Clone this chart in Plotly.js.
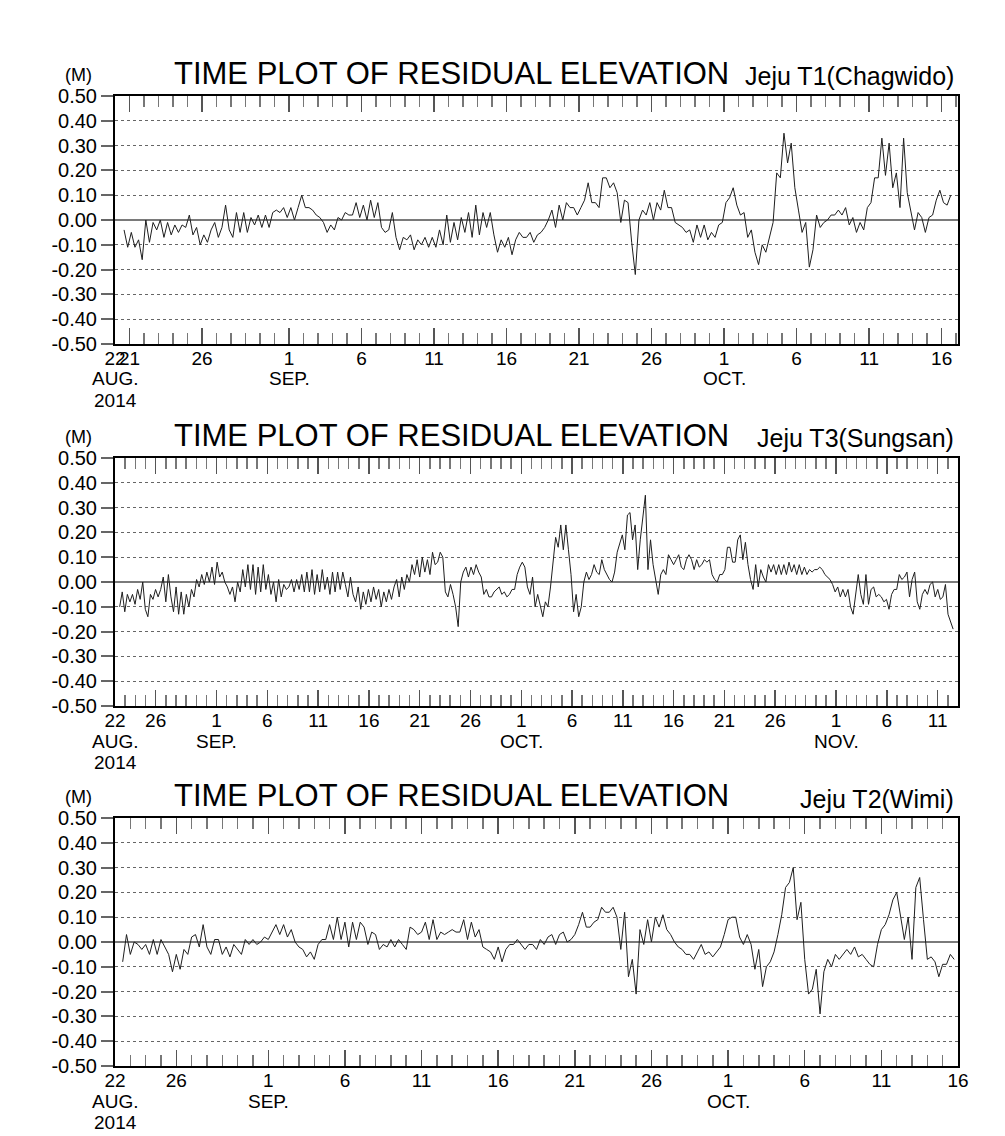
<!DOCTYPE html>
<html>
<head>
<meta charset="utf-8">
<script src="https://cdn.plot.ly/plotly-3.0.1.min.js"></script>
<style>
  body { margin: 0; background: #fff; }
  #chart { width: 1005px; height: 1136px; }
</style>
</head>
<body>
<div id="chart"></div>
<script>
// residual elevation (m), one reading every few hours

const plotTitle = 'TIME PLOT OF RESIDUAL ELEVATION';
const stationNames = ['Jeju T1(Chagwido)', 'Jeju T3(Sungsan)', 'Jeju T2(Wimi)'];

// T1 Chagwido
const t1Start = '2014-08-20T15:00:00';
const t1StepHours = 6;
const t1Values = [
  -0.04,-0.11,-0.05,-0.11,-0.08,-0.16,0.00,-0.09,-0.01,-0.04,
  0.00,-0.07,-0.01,-0.06,-0.02,-0.05,-0.02,-0.03,0.02,-0.06,
  -0.03,-0.10,-0.06,-0.09,-0.04,-0.01,-0.07,-0.03,0.06,-0.04,
  -0.07,0.03,-0.05,0.03,-0.05,0.01,-0.02,0.02,-0.03,0.02,
  -0.03,0.03,0.04,0.03,0.05,0.01,0.05,0.00,0.05,0.10,
  0.05,0.05,0.04,0.02,0.01,-0.01,-0.05,-0.02,-0.04,0.01,
  0.00,0.03,0.02,0.02,0.07,0.01,0.06,0.00,0.08,0.01,
  0.07,-0.03,-0.05,-0.04,0.03,-0.07,-0.12,-0.07,-0.08,-0.06,
  -0.12,-0.08,-0.10,-0.07,-0.11,-0.07,-0.11,-0.04,-0.10,0.02,
  -0.09,-0.01,-0.08,0.01,-0.05,0.03,-0.07,0.06,-0.06,0.03,
  -0.03,0.03,-0.06,-0.13,-0.08,-0.11,-0.07,-0.14,-0.08,-0.05,
  -0.07,-0.07,-0.05,-0.09,-0.06,-0.05,-0.03,0.00,
  0.04,-0.03,0.06,0.00,0.07,0.05,0.05,0.02,0.05,0.08,
  0.15,0.07,0.07,0.05,0.17,0.17,0.13,0.15,0.11,-0.01,
  0.08,0.07,-0.09,-0.22,0.00,0.04,0.02,0.07,0.00,0.07,
  0.04,0.12,0.05,0.05,-0.01,-0.02,-0.03,-0.05,-0.04,-0.09,
  -0.02,-0.07,-0.02,-0.08,-0.05,-0.07,-0.02,-0.01,0.07,0.09,
  0.13,0.06,0.02,0.03,-0.07,-0.04,-0.13,-0.18,-0.10,-0.13,
  -0.07,-0.01,0.19,0.17,0.35,0.23,0.31,0.13,0.04,-0.05,
  -0.01,-0.19,-0.12,0.02,-0.03,-0.01,0.00,0.02,0.02,0.04,
  0.02,0.05,-0.02,0.01,-0.05,-0.01,-0.04,0.05,0.07,0.17,
  0.17,0.33,0.18,0.31,0.13,0.19,0.05,0.33,0.11,0.03,
  -0.04,0.03,0.01,-0.05,0.01,0.02,0.08,0.12,0.07,0.06,
  0.10
];
const t1Range = ['2014-08-20', '2014-10-17 03:00'];
const t1TickDates = ['2014-08-20','2014-08-21','2014-08-26','2014-09-01','2014-09-06','2014-09-11',
  '2014-09-16','2014-09-21','2014-09-26','2014-10-01','2014-10-06','2014-10-11','2014-10-16'];
const t1TickText = ['22','21','26','1','6','11','16','21','26','1','6','11','16'];
const t1MonthDates = ['2014-08-20','2014-09-01','2014-10-01'];
const t1MonthText = ['AUG.','SEP.','OCT.'];

// T3 Sungsan
const t3Start = '2014-08-22T11:00:00';
const t3StepHours = 6.06;
const t3Values = [
  -0.10,-0.04,-0.12,-0.05, -0.08,-0.05,-0.09,-0.03, -0.07,0.00,-0.11,-0.14,
  -0.05,-0.07,-0.03,-0.06, -0.03,0.02,-0.08,0.03, -0.06,-0.12,-0.02,-0.13,
  -0.04,-0.13,-0.05,-0.10, -0.03,-0.06,0.01,-0.02, 0.03,-0.01,0.04,0.00,
  0.06,-0.01,0.08,0.02, 0.04,0.00,-0.02,-0.05, -0.02,-0.08,0.00,-0.04,
  0.05,-0.02,0.07,-0.03, 0.07,-0.05,0.06,-0.04, 0.07,-0.03,0.03,-0.05,
  0.00,-0.08,0.01,-0.06, -0.01,-0.03,-0.02,0.01, -0.04,0.01,-0.03,0.03,
  -0.04,0.04,-0.04,0.05, -0.05,0.03,-0.04,0.05, -0.03,0.02,-0.05,0.04,
  -0.04,0.04,-0.03,0.04, -0.01,-0.06,0.02,-0.05, -0.08,-0.02,-0.11,-0.04,
  -0.09,-0.03,-0.08,-0.02, -0.07,-0.03,-0.10,-0.04, -0.08,-0.03,-0.07,-0.02,
  0.01,-0.06,0.02,-0.03, 0.03,0.00,0.07,0.03, 0.09,0.02,0.10,0.04,
  0.09,0.03,0.12,0.07, 0.08,0.12,0.10,-0.04, -0.06,-0.01,-0.05,-0.10,
  -0.18,0.00,0.04,0.06, 0.02,0.06,0.03,0.07, 0.04,0.02,-0.05,-0.03,
  -0.06,-0.06,-0.04,-0.03,
  -0.02,-0.05,-0.04,-0.06,-0.05,-0.03,-0.03,0.03,0.06,0.08,
  0.06,-0.02,-0.05,0.02,-0.10,-0.05,-0.10,-0.14,-0.08,-0.10,
  -0.02,0.09,0.18,0.14,0.23,0.13,0.23,0.13,0.03,-0.12,
  -0.05,-0.14,-0.10,0.00,0.04,0.01,0.03,0.07,0.04,0.03,
  0.09,0.05,0.03,0.01,0.00,0.04,0.12,0.16,0.19,0.13,
  0.27,0.28,0.17,0.23,0.05,0.17,0.27,0.35,0.05,0.17,
  0.07,0.01,-0.05,0.03,0.05,0.03,0.11,0.09,0.07,0.09,
  0.11,0.06,0.05,0.09,0.11,0.09,0.05,0.09,0.06,0.07,
  0.09,0.08,0.09,0.03,0.01,0.00,0.03,0.03,0.05,0.14,
  0.14,0.08,0.08,0.17,0.19,0.09,0.16,0.07,0.01,-0.03,
  0.07,-0.02,0.05,0.02,0.00,0.07,0.04,0.07,0.03,0.07,
  0.03,0.07,0.03,0.08,0.04,0.07,0.03,0.07,0.03,0.06,
  0.03,0.05,0.04,0.05,0.05,0.06,0.05,0.03,0.02,0.01,
  -0.01,-0.04,-0.02,-0.06,-0.03,-0.06,-0.03,-0.10,-0.13,-0.05,
  0.03,-0.05,-0.09,0.03,-0.09,-0.03,-0.02,-0.06,-0.05,-0.06,
  -0.08,-0.07,-0.11,-0.05,-0.03,-0.03,0.03,0.01,0.02,0.04,
  -0.06,0.01,0.04,-0.08,-0.11,-0.05,-0.03,-0.05,-0.01,0.00,
  -0.06,-0.03,-0.07,-0.06,-0.01,-0.13,-0.16,-0.19
];
const t3Range = ['2014-08-22', '2014-11-13'];
const t3TickDates = ['2014-08-22','2014-08-26','2014-09-01','2014-09-06','2014-09-11','2014-09-16',
  '2014-09-21','2014-09-26','2014-10-01','2014-10-06','2014-10-11','2014-10-16','2014-10-21',
  '2014-10-26','2014-11-01','2014-11-06','2014-11-11'];
const t3TickText = ['22','26','1','6','11','16','21','26','1','6','11','16','21','26','1','6','11'];
const t3MonthDates = ['2014-08-22','2014-09-01','2014-10-01','2014-11-01'];
const t3MonthText = ['AUG.','SEP.','OCT.','NOV.'];

// T2 Wimi
const t2Start = '2014-08-22T12:00:00';
const t2StepHours = 6;
const t2Values = [
  -0.08,0.03,-0.05,0.00,-0.01,-0.03,-0.01,-0.05,0.01,-0.05,
  0.01,-0.02,-0.05,-0.12,-0.05,-0.11,-0.03,-0.05,0.02,0.03,
  -0.02,0.07,-0.02,-0.05,0.01,0.01,-0.05,-0.02,-0.06,-0.01,
  -0.03,-0.05,0.01,-0.01,0.01,-0.01,0.00,0.02,0.01,0.04,
  0.07,0.03,0.07,0.02,0.05,0.00,-0.02,-0.03,-0.06,-0.04,
  -0.07,-0.01,0.01,0.01,0.07,0.01,0.10,0.01,0.08,-0.02,
  0.08,0.01,0.08,0.06,-0.01,0.04,0.03,-0.03,-0.01,-0.02,
  0.01,-0.02,0.01,-0.01,-0.03,0.06,0.05,0.03,0.04,0.08,
  0.01,0.09,0.01,0.04,0.03,0.04,0.05,0.04,0.04,0.09,
  0.01,0.08,0.02,0.05,-0.02,-0.03,-0.04,-0.07,-0.02,-0.08,
  -0.03,-0.01,-0.01,0.01,-0.01,-0.03,-0.01,-0.01,-0.03,0.01,
  -0.01,0.02,0.03,-0.01,0.03,0.04,0.00,0.01,0.03,0.07,
  0.12,0.06,0.06,0.08,0.09,0.14,0.12,0.12,0.14,0.10,
  -0.03,0.12,-0.14,-0.07,-0.21,0.05,-0.01,0.09,0.00,0.10,
  0.06,0.11,0.05,0.03,0.00,-0.02,-0.03,-0.05,-0.05,-0.07,
  -0.04,-0.01,-0.05,-0.04,-0.06,-0.04,-0.02,0.03,0.09,0.10,
  0.10,0.02,-0.01,0.03,-0.01,-0.11,-0.03,-0.18,-0.10,-0.08,
  -0.04,0.03,0.11,0.22,0.24,0.30,0.09,0.16,-0.07,-0.21,
  -0.19,-0.11,-0.29,-0.12,-0.07,-0.10,-0.05,-0.07,-0.05,-0.03,
  -0.05,-0.02,-0.06,-0.05,-0.07,-0.09,-0.10,-0.01,0.05,0.07,
  0.11,0.17,0.20,0.10,0.01,0.10,-0.07,0.22,0.26,0.09,
  -0.07,-0.06,-0.08,-0.14,-0.09,-0.09,-0.05,-0.07
];
const t2Range = ['2014-08-22', '2014-10-16'];
const t2TickDates = ['2014-08-22','2014-08-26','2014-09-01','2014-09-06','2014-09-11','2014-09-16',
  '2014-09-21','2014-09-26','2014-10-01','2014-10-06','2014-10-11','2014-10-16'];
const t2TickText = ['22','26','1','6','11','16','21','26','1','6','11','16'];
const t2MonthDates = ['2014-08-22','2014-09-01','2014-10-01'];
const t2MonthText = ['AUG.','SEP.','OCT.'];

const yTickVals = [0.5, 0.4, 0.3, 0.2, 0.1, 0, -0.1, -0.2, -0.3, -0.4, -0.5];
const yTickText = ['0.50','0.40','0.30','0.20','0.10','0.00','-0.10','-0.20','-0.30','-0.40','-0.50'];

// page geometry in pixels
const W = 1005, H = 1136;
const plotLeft = 115, plotRight = 958;
const panelBoxes = [[96, 344], [458, 706], [818, 1066]];   // top, bottom

function py(px) { return 1 - px / H; }
function pxX(px) { return px / W; }

function sampleTimes(start, stepHours, n) {
  const t0 = Date.parse(start + 'Z');
  const out = [];
  for (let i = 0; i < n; i++) {
    const d = new Date(t0 + i * stepHours * 3600000);
    out.push(d.toISOString().slice(0, 19).replace('T', ' '));
  }
  return out;
}

const panels = [
  { values: t1Values, start: t1Start, step: t1StepHours, range: t1Range,
    tickDates: t1TickDates, tickText: t1TickText, monthDates: t1MonthDates, monthText: t1MonthText,
    minor0: '2014-08-20' },
  { values: t3Values, start: t3Start, step: t3StepHours, range: t3Range,
    tickDates: t3TickDates, tickText: t3TickText, monthDates: t3MonthDates, monthText: t3MonthText,
    minor0: '2014-08-22' },
  { values: t2Values, start: t2Start, step: t2StepHours, range: t2Range,
    tickDates: t2TickDates, tickText: t2TickText, monthDates: t2MonthDates, monthText: t2MonthText,
    minor0: '2014-08-22' }
];

const font = 'Liberation Sans, Arial, Helvetica, sans-serif';
const traces = [];
const layout = {
  width: W, height: H,
  margin: { l: 0, r: 0, t: 0, b: 0 },
  paper_bgcolor: '#fff', plot_bgcolor: '#fff',
  showlegend: false,
  font: { family: font, color: '#000' },
  annotations: []
};

panels.forEach((p, i) => {
  const n = i === 0 ? '' : String(i + 1);
  const [top, bottom] = panelBoxes[i];

  traces.push({
    x: sampleTimes(p.start, p.step, p.values.length),
    y: p.values,
    xaxis: 'x' + n, yaxis: 'y' + n,
    type: 'scatter', mode: 'lines',
    line: { color: '#1e1e1e', width: 1 },
    hoverinfo: 'skip'
  });

  layout['xaxis' + n] = {
    type: 'date',
    domain: [pxX(plotLeft), pxX(plotRight)],
    anchor: 'y' + n,
    range: p.range,
    tickmode: 'array', tickvals: p.tickDates, ticktext: p.tickText,
    tickangle: 0, ticklabelstandoff: -4,
    ticks: 'inside', ticklen: 16, tickwidth: 1.5, tickcolor: '#555',
    minor: { ticks: 'inside', ticklen: 11, tickwidth: 1.5, tickcolor: '#777',
             tick0: p.minor0, dtick: 86400000, showgrid: false },
    tickfont: { size: 19, family: font, color: '#000' },
    showline: true, linecolor: '#000', linewidth: 2, mirror: 'ticks',
    showgrid: false, zeroline: false, fixedrange: true
  };

  layout['yaxis' + n] = {
    domain: [py(bottom), py(top)],
    anchor: 'x' + n,
    range: [-0.5, 0.5],
    tickmode: 'array', tickvals: yTickVals, ticktext: yTickText,
    ticks: 'outside', ticklen: 12, tickwidth: 2, tickcolor: '#666',
    tickfont: { size: 20, family: font, color: '#000' },
    showline: true, linecolor: '#000', linewidth: 2, mirror: true,
    showgrid: true, gridcolor: '#666', gridwidth: 1, griddash: 'dot',
    zeroline: true, zerolinecolor: '#7a7a7a', zerolinewidth: 2,
    fixedrange: true
  };

  const ann = layout.annotations;
  ann.push({ xref: 'paper', yref: 'paper', x: pxX(451), y: py(top - 22.5),
    text: plotTitle, showarrow: false, xanchor: 'center', yanchor: 'middle',
    font: { size: 31, family: font, color: '#000' } });
  ann.push({ xref: 'paper', yref: 'paper', x: pxX(956), y: py(top - 19.5),
    text: stationNames[i], showarrow: false, xanchor: 'right', yanchor: 'middle',
    font: { size: 25, family: font, color: '#000' } });
  ann.push({ xref: 'paper', yref: 'paper', x: pxX(78.5), y: py(top - 21),
    text: '(M)', showarrow: false, xanchor: 'center', yanchor: 'middle',
    font: { size: 18, family: font, color: '#000' } });

  p.monthDates.forEach((d, k) => {
    ann.push({ xref: 'x' + n, yref: 'paper', x: d, y: py(bottom + 35),
      text: p.monthText[k], showarrow: false, xanchor: 'center', yanchor: 'middle',
      font: { size: 19, family: font, color: '#000' } });
  });
  ann.push({ xref: 'x' + n, yref: 'paper', x: p.monthDates[0], y: py(bottom + 56),
    text: '2014', showarrow: false, xanchor: 'center', yanchor: 'middle',
    font: { size: 19, family: font, color: '#000' } });
});

Plotly.newPlot('chart', traces, layout, { staticPlot: true, displayModeBar: false });
</script>
</body>
</html>
